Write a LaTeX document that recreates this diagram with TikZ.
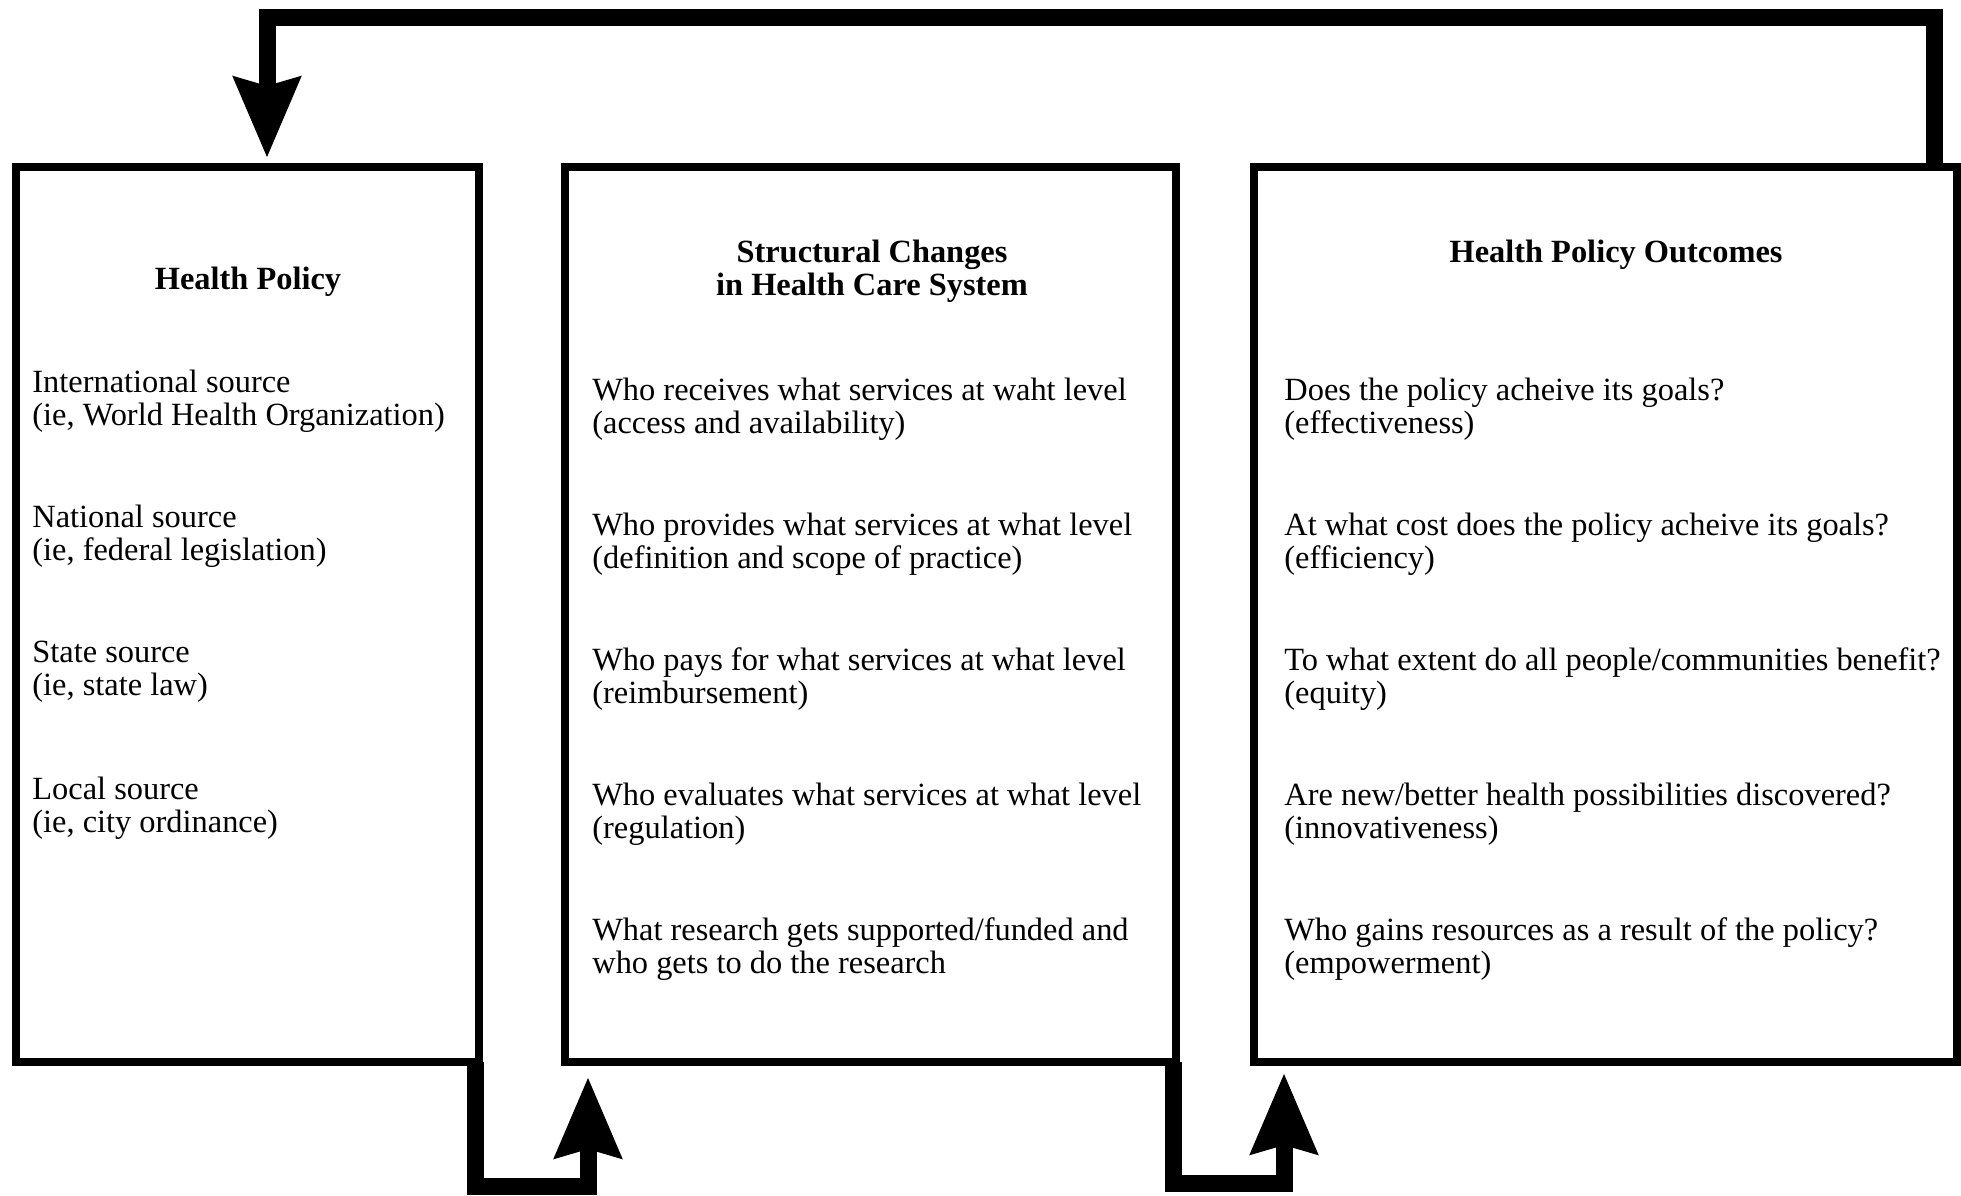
\documentclass[tikz,border=0pt]{standalone}
\usepackage{fontspec}
\setmainfont{Liberation Serif}
\usetikzlibrary{arrows.meta}
\begin{document}
\begin{tikzpicture}[x=0.5pt,y=-0.5pt,
  box/.style={draw,line width=4pt,inner sep=0pt,outer sep=0pt},
  conn/.style={line width=8.5pt,line join=miter,-{Stealth[length=40pt,width=32.5pt,inset=4pt]}},
  head/.style={font=\fontsize{16.2}{16.5}\selectfont\bfseries,align=center,inner sep=0pt},
  item/.style={font=\fontsize{16.2}{16.5}\selectfont,align=left,anchor=west,inner sep=0pt}]
\useasboundingbox (0,0) rectangle (1961,1195);
% boxes
\node[box,minimum width=231.5pt,minimum height=447.5pt] (b1) at (247.5,614.5) {};
\node[box,minimum width=305.5pt,minimum height=447.5pt] (b2) at (870.5,614.5) {};
\node[box,minimum width=351.5pt,minimum height=447.5pt] (b3) at (1605.5,614.5) {};
% headings
\node[head] (h1) at (248,282) {Health Policy};
\node[head] (h2) at (872,271.5) {Structural Changes\\in Health Care System};
\node[head] (h3) at (1616,254.5) {Health Policy Outcomes};
% box 1 items
\node[item] (a1) at (32,401) {International source\\(ie, World Health Organization)};
\node[item] (a2) at (32,536.5) {National source\\(ie, federal legislation)};
\node[item] (a3) at (32,672) {State source\\(ie, state law)};
\node[item] (a4) at (32,808) {Local source\\(ie, city ordinance)};
% box 2 items
\node[item] (s1) at (592,409.5) {Who receives what services at waht level\\(access and availability)};
\node[item] (s2) at (592,544.5) {Who provides what services at what level\\(definition and scope of practice)};
\node[item] (s3) at (592,679.5) {Who pays for what services at what level\\(reimbursement)};
\node[item] (s4) at (592,814.5) {Who evaluates what services at what level\\(regulation)};
\node[item] (s5) at (592,949.5) {What research gets supported/funded and\\who gets to do the research};
% box 3 items
\node[item] (o1) at (1284,409.5) {Does the policy acheive its goals?\\(effectiveness)};
\node[item] (o2) at (1284,544.5) {At what cost does the policy acheive its goals?\\(efficiency)};
\node[item] (o3) at (1284,679.5) {To what extent do all people/communities benefit?\\(equity)};
\node[item] (o4) at (1284,814.5) {Are new/better health possibilities discovered?\\(innovativeness)};
\node[item] (o5) at (1284,949.5) {Who gains resources as a result of the policy?\\(empowerment)};
% connector coordinates
\coordinate (d1) at (588,1186);
\coordinate (t1) at (588,1077);
\coordinate (d2) at (1284,1183);
\coordinate (t2) at (1284,1073);
\coordinate (u1) at (1934,17);
\coordinate (u2) at (267,17);
\coordinate (t3) at (267,158);
% connectors
\draw[conn] ([xshift=-2pt]b1.south east) |- (d1) -- (t1);
\draw[conn] ([xshift=-1.5pt]b2.south east) |- (d2) -- (t2);
\draw[conn] (u1 |- b3.north) -- (u1) -- (u2) -- (t3);
\end{tikzpicture}
\end{document}
